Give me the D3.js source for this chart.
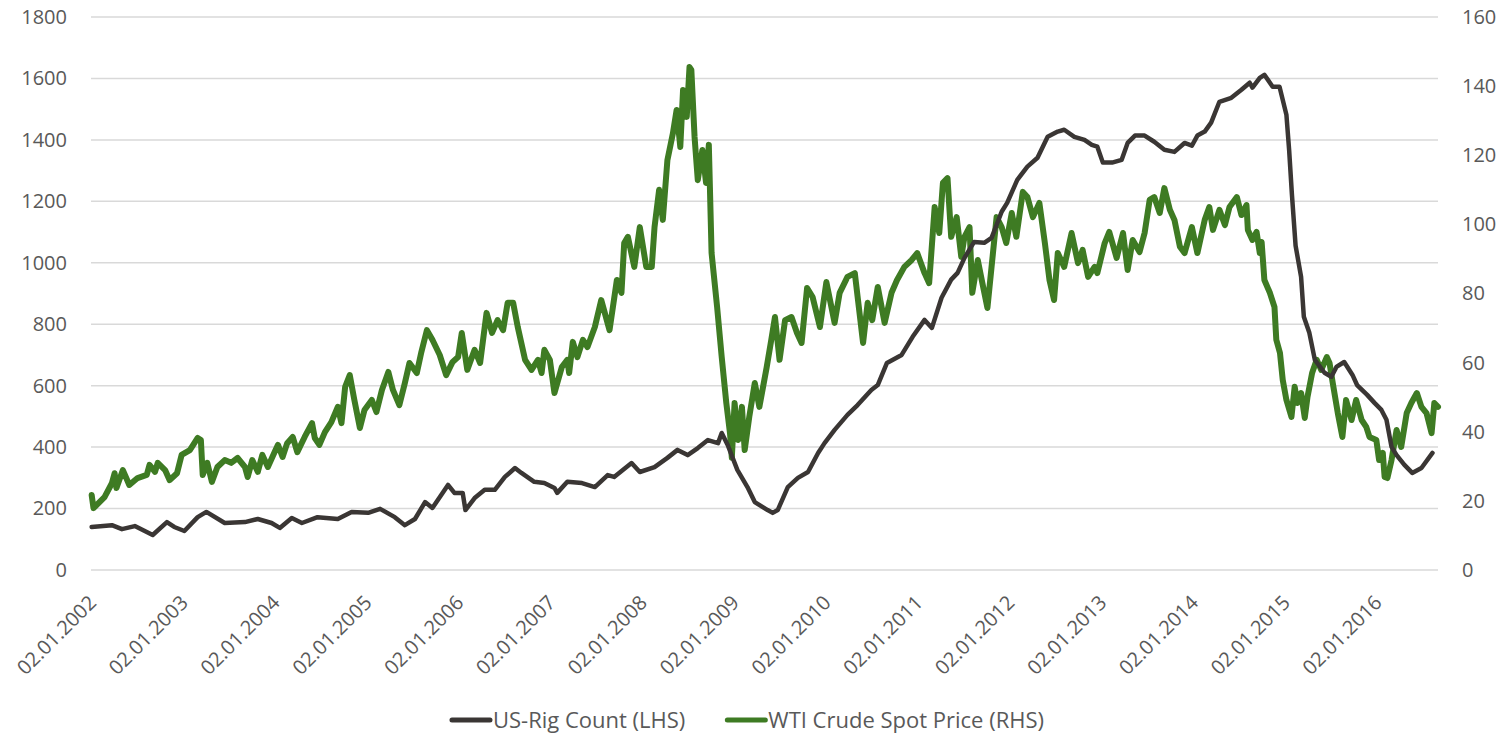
<!DOCTYPE html>
<html><head><meta charset="utf-8">
<script src="https://cdn.jsdelivr.net/npm/d3@7"></script>
<style>
html,body{margin:0;padding:0;background:#fff;}
svg text{font-family:"Open Sans",sans-serif;fill:#595959;}
</style></head>
<body><svg id="c" width="1504" height="736"></svg>
<script>
// ---- DATA (times are fractional years) ----
const tickYears = [2002,2003,2004,2005,2006,2007,2008,2009,2010,2011,2012,2013,2014,2015,2016];
const leftTicks = [0,200,400,600,800,1000,1200,1400,1600,1800];
const rightTicks = [0,20,40,60,80,100,120,140,160];
const seriesNames = ["US-Rig Count (LHS)", "WTI Crude Spot Price (RHS)"];

const rigTime = [2002.01,2002.23,2002.34,2002.48,2002.61,2002.675,2002.83,2002.91,2003.02,2003.165,2003.26,2003.46,2003.68,2003.82,2003.97,2004.06,2004.19,2004.30,2004.47,2004.69,2004.84,2005.02,2005.15,2005.31,2005.42,2005.53,2005.64,2005.72,2005.89,2005.96,2006.05,2006.08,2006.18,2006.29,2006.40,2006.51,2006.62,2006.69,2006.83,2006.94,2007.05,2007.08,2007.19,2007.35,2007.49,2007.63,2007.70,2007.89,2007.98,2008.14,2008.28,2008.39,2008.50,2008.61,2008.72,2008.83,2008.87,2008.935,2009.04,2009.15,2009.23,2009.37,2009.425,2009.48,2009.59,2009.70,2009.81,2009.92,2009.99,2010.10,2010.24,2010.35,2010.50,2010.57,2010.67,2010.83,2010.95,2011.08,2011.16,2011.265,2011.37,2011.44,2011.515,2011.62,2011.73,2011.81,2011.92,2011.98,2012.09,2012.20,2012.31,2012.42,2012.53,2012.60,2012.71,2012.82,2012.90,2012.96,2013.02,2013.12,2013.225,2013.29,2013.37,2013.475,2013.58,2013.69,2013.80,2013.91,2013.99,2014.05,2014.13,2014.20,2014.29,2014.42,2014.53,2014.62,2014.65,2014.73,2014.78,2014.87,2014.945,2015.02,2015.05,2015.08,2015.12,2015.18,2015.21,2015.27,2015.33,2015.435,2015.51,2015.565,2015.65,2015.74,2015.79,2015.90,2015.98,2016.055,2016.11,2016.165,2016.22,2016.305,2016.39,2016.49,2016.61];
const rigCount = [140,146,133,143,124,114,156,140,127,172,189,153,156,166,153,137,169,153,172,166,189,186,199,172,146,166,221,202,277,251,251,195,234,261,261,303,332,316,287,283,267,251,287,283,270,309,303,348,319,335,365,391,374,397,423,413,446,407,326,270,221,195,186,195,270,300,319,381,413,456,505,537,586,602,674,700,759,814,788,886,945,967,1016,1068,1065,1081,1166,1195,1270,1313,1342,1410,1427,1433,1410,1400,1384,1378,1326,1326,1335,1390,1414,1414,1394,1368,1361,1390,1381,1414,1427,1456,1524,1537,1563,1586,1570,1602,1612,1573,1573,1482,1366,1223,1056,954,824,772,684,642,629,661,677,635,602,570,544,521,489,401,374,342,316,332,381];

const wtiTime = [2002.01,2002.03,2002.15,2002.23,2002.26,2002.28,2002.35,2002.42,2002.51,2002.61,2002.64,2002.70,2002.73,2002.81,2002.86,2002.94,2002.99,2003.08,2003.165,2003.20,2003.22,2003.27,2003.32,2003.38,2003.46,2003.53,2003.60,2003.68,2003.71,2003.76,2003.82,2003.87,2003.93,2004.00,2004.04,2004.09,2004.14,2004.20,2004.25,2004.33,2004.41,2004.44,2004.49,2004.55,2004.62,2004.69,2004.73,2004.77,2004.82,2004.87,2004.93,2004.98,2005.06,2005.11,2005.17,2005.24,2005.29,2005.36,2005.42,2005.47,2005.55,2005.60,2005.66,2005.72,2005.80,2005.87,2005.94,2006.00,2006.04,2006.10,2006.18,2006.24,2006.31,2006.37,2006.43,2006.49,2006.54,2006.60,2006.65,2006.73,2006.80,2006.87,2006.91,2006.94,2007.00,2007.05,2007.13,2007.19,2007.21,2007.25,2007.30,2007.36,2007.41,2007.49,2007.56,2007.62,2007.65,2007.73,2007.78,2007.81,2007.85,2007.92,2007.98,2008.05,2008.11,2008.14,2008.19,2008.23,2008.28,2008.34,2008.38,2008.42,2008.45,2008.49,2008.52,2008.54,2008.575,2008.61,2008.66,2008.70,2008.73,2008.76,2008.82,2008.87,2008.92,2008.96,2008.98,2009.01,2009.05,2009.09,2009.12,2009.17,2009.23,2009.28,2009.36,2009.41,2009.45,2009.50,2009.56,2009.63,2009.69,2009.74,2009.80,2009.86,2009.94,2010.01,2010.10,2010.155,2010.24,2010.32,2010.41,2010.46,2010.51,2010.57,2010.645,2010.72,2010.78,2010.86,2010.94,2011.00,2011.08,2011.13,2011.19,2011.24,2011.28,2011.33,2011.37,2011.43,2011.48,2011.515,2011.57,2011.60,2011.66,2011.71,2011.765,2011.81,2011.865,2011.92,2011.97,2012.03,2012.08,2012.15,2012.20,2012.26,2012.33,2012.39,2012.44,2012.49,2012.53,2012.60,2012.68,2012.75,2012.80,2012.86,2012.93,2012.96,2013.04,2013.09,2013.17,2013.24,2013.29,2013.345,2013.42,2013.475,2013.53,2013.58,2013.64,2013.69,2013.75,2013.80,2013.86,2013.91,2013.99,2014.05,2014.13,2014.18,2014.22,2014.29,2014.35,2014.40,2014.48,2014.53,2014.585,2014.60,2014.65,2014.695,2014.73,2014.75,2014.78,2014.84,2014.89,2014.91,2014.95,2014.98,2015.02,2015.075,2015.11,2015.14,2015.18,2015.22,2015.25,2015.30,2015.35,2015.40,2015.46,2015.49,2015.525,2015.58,2015.63,2015.67,2015.73,2015.78,2015.84,2015.89,2015.925,2016.00,2016.03,2016.07,2016.09,2016.12,2016.165,2016.22,2016.27,2016.33,2016.38,2016.44,2016.49,2016.545,2016.60,2016.63,2016.67];
const wtiPrice = [21.7,17.9,21.1,25.1,28.0,23.7,28.9,24.6,26.6,27.5,30.4,28.4,31.0,28.9,26.0,28.0,33.3,34.7,38.2,37.6,27.5,31.0,25.5,29.8,31.8,31.0,32.4,29.8,26.9,31.8,28.4,33.3,29.8,33.9,36.2,32.7,36.7,38.5,34.1,38.5,42.5,38.2,36.2,39.9,42.8,47.2,42.5,53.0,56.4,49.2,41.1,46.3,49.2,45.7,52.1,57.3,52.1,47.7,54.1,59.9,57.0,63.1,69.4,66.6,62.2,56.4,60.2,61.6,68.6,57.9,63.7,59.9,74.4,68.6,72.3,69.4,77.3,77.3,70.3,60.8,57.9,60.8,57.0,63.7,60.8,51.2,58.7,60.8,57.0,66.0,61.6,66.6,64.5,70.3,78.1,72.3,69.4,83.9,80.2,94.6,96.4,87.7,99.2,87.7,87.7,99.2,110,101.3,118.6,126.4,133.1,122.4,138.9,131.1,145.5,144.7,125.3,112.8,121.5,112,123,91.7,76.1,61.6,48.3,39.6,32.5,48.3,37.6,47.2,34.7,44.3,54.1,47.2,58.7,66.6,73.2,60.8,72.3,73.2,68.6,65.7,81.6,79.0,70.3,83.3,71.5,80.2,84.8,85.9,65.7,77.3,72.3,81.9,71.5,80.2,83.9,87.7,89.7,91.7,85.9,83.0,105,97.5,112,113.4,96.4,102.1,90.6,96.4,99.2,80.2,89.7,83.0,75.8,87.7,102.1,99.2,94.6,103.3,96.4,109.4,107.9,102.1,106.2,94.6,83.9,78.1,91.7,87.7,97.5,88.8,92.6,84.8,87.7,85.9,94.6,97.8,90.3,97.5,86.8,95.5,92.0,97.5,107.1,107.9,103.3,110.5,104.2,101.3,93.5,91.7,99.2,91.7,101.3,105,98.4,104.2,99.8,105,107.9,102.7,105.6,98.4,95.5,97.8,91.7,94.9,83.9,80.2,76.1,66.6,62.8,55.0,49.2,44.3,53.0,48.3,51.2,44.0,50.1,57.0,60.8,57.9,61.6,59.9,54.1,45.4,38.5,49.2,43.4,49.2,43.4,41.4,38.5,37.6,31.8,33.9,26.9,26.6,31.8,40.5,35.6,45.4,48.3,51.2,47.2,45.4,39.6,48.3,47.2];

// ---- helpers ----
function fy(t){ const y=Math.floor(t); const a=Date.UTC(y,0,1), b=Date.UTC(y+1,0,1); return new Date(a+(t-y)*(b-a)); }
const fmt = d3.utcFormat("%d.%m.%Y");

const svg = d3.select("#c");
const M = {l:91, r:1438, t:17, b:570};
const x = d3.scaleUtc().domain([new Date(Date.UTC(2002,0,2)), fy(2016.67)]).range([M.l, M.r]);
const yL = d3.scaleLinear().domain([0,1800]).range([M.b, M.t]);
const yR = d3.scaleLinear().domain([0,160]).range([M.b, M.t]);

// gridlines
svg.append("g").selectAll("line").data(leftTicks).join("line")
  .attr("x1", M.l).attr("x2", M.r)
  .attr("y1", d=>yL(d)).attr("y2", d=>yL(d))
  .attr("stroke", "#d9d9d9").attr("stroke-width", 1.5);

// left axis
const la = svg.append("g").attr("transform", `translate(${M.l},0)`)
  .call(d3.axisLeft(yL).tickValues(leftTicks).tickFormat(d3.format("d")).tickSize(0).tickPadding(24));
la.select(".domain").remove();
la.selectAll("text").style("font-size","20px").attr("fill","#595959");

// right axis
const ra = svg.append("g").attr("transform", `translate(${M.r},0)`)
  .call(d3.axisRight(yR).tickValues(rightTicks).tickFormat(d3.format("d")).tickSize(0).tickPadding(24));
ra.select(".domain").remove();
ra.selectAll("text").style("font-size","20px").attr("fill","#595959");

// x axis labels
const xTicks = tickYears.map(y => new Date(Date.UTC(y,0,2)));
const xa = svg.append("g").attr("transform", `translate(0,${M.b})`)
  .call(d3.axisBottom(x).tickValues(xTicks).tickFormat(fmt).tickSize(0));
xa.select(".domain").remove();
xa.selectAll("text")
  .style("font-size","20px").attr("fill","#595959")
  .attr("text-anchor","end").attr("dy",null).attr("y",null)
  .attr("transform","translate(6,34) rotate(-45)");

// lines
const rigData = rigTime.map((t,i)=>({d:fy(t), v:rigCount[i]}));
const wtiData = wtiTime.map((t,i)=>({d:fy(t), v:wtiPrice[i]}));
const colors = ["#3a3634", "#3e7b23"];

svg.append("path").datum(wtiData)
  .attr("d", d3.line().x(d=>x(d.d)).y(d=>yR(d.v)))
  .attr("fill","none").attr("stroke",colors[1]).attr("stroke-width",6)
  .attr("stroke-linejoin","round").attr("stroke-linecap","round");
svg.append("path").datum(rigData)
  .attr("d", d3.line().x(d=>x(d.d)).y(d=>yL(d.v)))
  .attr("fill","none").attr("stroke",colors[0]).attr("stroke-width",4.5)
  .attr("stroke-linejoin","round").attr("stroke-linecap","round");

// legend
const lg = svg.append("g");
const items = lg.selectAll("g").data(seriesNames).join("g");
items.append("line").attr("x1",0).attr("x2",38).attr("y1",0).attr("y2",0)
  .attr("stroke",(d,i)=>colors[i]).attr("stroke-width",5).attr("stroke-linecap","round");
items.append("text").attr("x",41).attr("y",0).attr("dy","0.35em")
  .style("font-size","22px").attr("fill","#595959").text(d=>d);
const widths=[];
items.each(function(){ widths.push(this.getBBox().width); });
const gap = 42;
const total = widths.reduce((a,b)=>a+b,0) + gap*(widths.length-1);
const startX = 748 - total/2;
items.attr("transform", (d,i)=>{ const tx = startX + widths.slice(0,i).reduce((a,b)=>a+b,0) + gap*i; return `translate(${tx},720)`; });
</script></body></html>
